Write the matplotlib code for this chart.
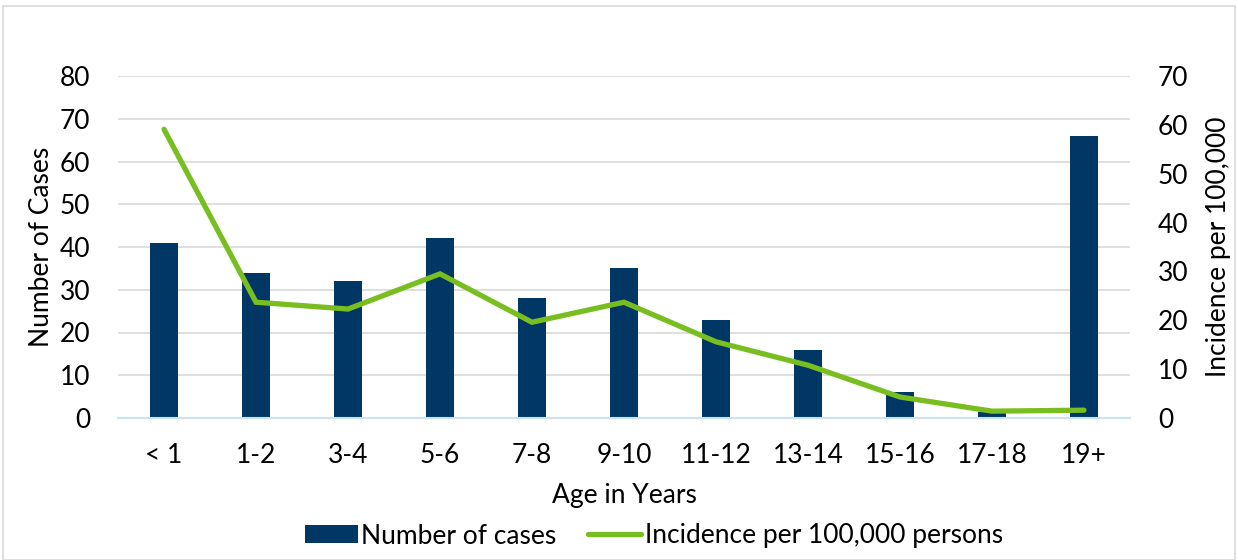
import matplotlib
matplotlib.use("Agg")
import matplotlib.pyplot as plt
from matplotlib.patches import Rectangle
import numpy as np

plt.rcParams['font.family'] = ['Lato', 'DejaVu Sans']

categories = ["< 1", "1-2", "3-4", "5-6", "7-8", "9-10", "11-12", "13-14", "15-16", "17-18", "19+"]
cases = [41, 34, 32, 42, 28, 35, 23, 16, 6, 1.4, 66]
incidence = [59.1, 23.7, 22.3, 29.5, 19.6, 23.7, 15.6, 10.8, 4.3, 1.4, 1.6]

bar_color = "#003764"
line_color = "#78BE20"
FS = 19

fig = plt.figure(figsize=(12.38, 5.6), dpi=100)
ax = fig.add_axes([118/1238, 1 - 418/560, (1130-118)/1238, (418-76)/560])
x = np.arange(len(categories))
ax.bar(x, cases, width=0.3, color=bar_color, label="Number of cases", zorder=2)
ax.set_xlim(-0.5, len(categories) - 0.5)
ax.set_ylim(0, 80)
ax.set_yticks(range(0, 81, 10))
ax.grid(axis='y', color='#d9d9d9', linewidth=1.2, zorder=0)
ax.set_axisbelow(True)
for s in ['top', 'right', 'left']:
    ax.spines[s].set_visible(False)
ax.spines['bottom'].set_color('#c9e2f5')
ax.spines['bottom'].set_linewidth(1.5)
ax.tick_params(axis='both', length=0, labelsize=FS, colors='black')
ax.tick_params(axis='x', pad=18)
ax.tick_params(axis='y', pad=20)
ax.set_xticks(x)
ax.set_xticklabels(categories)
ax.set_ylabel("Number of Cases", fontsize=FS, labelpad=4)
ax.set_xlabel("Age in Years", fontsize=FS, labelpad=11)

ax2 = ax.twinx()
ax2.plot(x, incidence, color=line_color, linewidth=3.8, solid_capstyle='round',
         solid_joinstyle='miter', label="Incidence per 100,000 persons", zorder=3)
ax2.set_ylim(0, 70)
ax2.set_yticks(range(0, 71, 10))
for s in ['top', 'right', 'left', 'bottom']:
    ax2.spines[s].set_visible(False)
ax2.tick_params(axis='y', length=0, labelsize=FS, pad=20)
ax2.set_ylabel("Incidence per 100,000", fontsize=FS, labelpad=13)

h1, l1 = ax.get_legend_handles_labels()
h2, l2 = ax2.get_legend_handles_labels()
fig.legend(h1 + h2, l1 + l2, loc='center', bbox_to_anchor=(654/1238, 1 - 536/560),
           ncol=2, frameon=False, fontsize=FS, handlelength=2.0, handleheight=0.65,
           handletextpad=0.15, columnspacing=1.2)

fig.patches.append(Rectangle((3/1238, 0), 1 - 6/1238, 1 - 6/560, transform=fig.transFigure,
                             fill=False, edgecolor='#d9d9d9', linewidth=1.2))

fig.savefig("out.png", dpi=100, facecolor='white')
